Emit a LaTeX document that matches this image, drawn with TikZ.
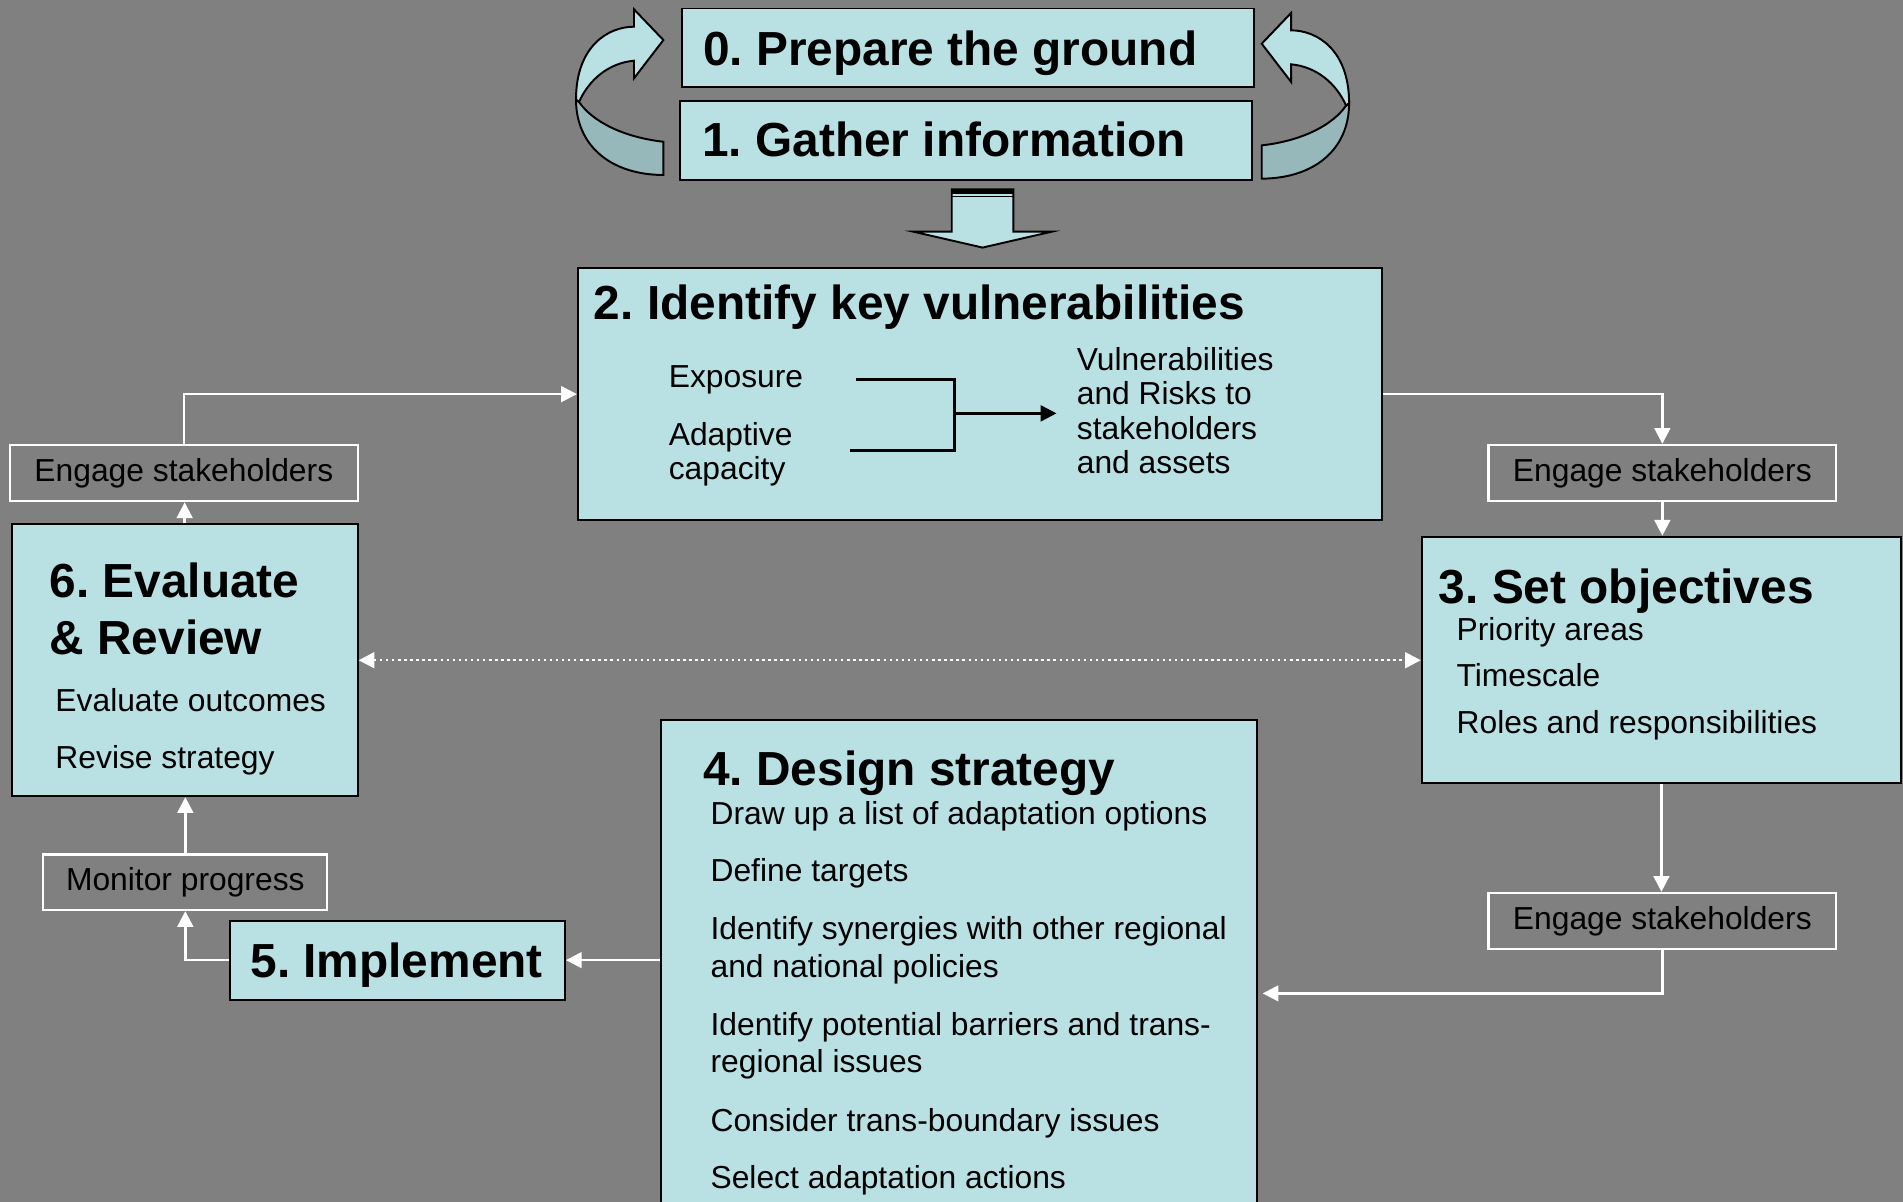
\documentclass[tikz,border=0pt]{standalone}
\usepackage{fontspec}
\setmainfont{Liberation Sans}
\usepackage{tikz}
\usetikzlibrary{positioning,arrows.meta,fit}
\frenchspacing

\definecolor{slidegray}{RGB}{128,128,128}
\definecolor{stepblue}{RGB}{185,224,227}
\definecolor{stepshade}{RGB}{150,184,187}
\newcommand{\titlefont}{\fontsize{19.7pt}{23.5pt}\selectfont\bfseries}
\newcommand{\bodyfont}{\fontsize{13.1pt}{15.5pt}\selectfont}

\begin{document}
\begin{tikzpicture}[
    x=0.5pt, y=-0.5pt,
    stepbox/.style={rectangle, draw=black, line width=0.8pt, fill=stepblue, inner sep=0pt},
    engage/.style={rectangle, draw=white, line width=0.9pt, inner sep=0pt, font=\bodyfont, minimum width=143.2pt, minimum height=23.2pt},
    steptitle/.style={anchor=base west, inner sep=0pt, align=left, font=\titlefont},
    stepitem/.style={anchor=base west, inner sep=0pt, align=left, font=\bodyfont},
    flow/.style={draw=white, line width=1pt, -{Triangle[length=6.5pt, width=6.5pt]}},
    dotflow/.style={draw=white, line width=1pt, dash pattern=on 1pt off 1.5pt, {Triangle[length=6.5pt, width=6.5pt]}-{Triangle[length=6.5pt, width=6.5pt]}},
    blackline/.style={draw=black, line width=1pt},
    blackarrow/.style={blackline, -{Triangle[length=6.5pt, width=6.5pt]}},
    blockarrow/.style={draw=black, line width=0.8pt, fill=stepblue, line join=miter},
]

% === SLIDE BACKGROUND ===
\useasboundingbox (0,0) rectangle (1568,990);
\fill[slidegray] (0,0) rectangle (1568,990);

% === STEPS 0 AND 1 (top) ===
\node[stepbox, fit={(562,7) (1033,72)}] (prep) {};
\node[stepbox, fit={(560.6,83.2) (1031.9,148.3)}] (gather) {};
\node[steptitle] (preptext)   at (579,54)    {0. Prepare the ground};
\node[steptitle] (gathertext) at (578.3,129) {1. Gather information};

% curved loop arrows left and right of steps 0/1
\foreach \sx/\dy in {1/0, -1/3} {
  \begin{scope}[shift={(793.1,\dy)}, xscale=\sx]
    \draw[blockarrow, fill=stepshade] (-318.5,82) .. controls (-318.5,120) and (-290,144) .. (-246.5,144.2)
        -- (-246.5,116.8) .. controls (-280,113) and (-305,100) .. (-316,84) -- cycle;
    \draw[blockarrow] (-270.7,22) .. controls (-292,22) and (-318.5,38) .. (-318.5,82) -- (-316,84)
        .. controls (-308,66) and (-292,52) .. (-270.7,50) -- (-270.7,64.5) -- (-246.5,33)
        -- (-270.7,7.7) -- cycle;
  \end{scope}
}

% block arrow down to step 2
\draw[blockarrow] (784.2,156) -- (835,156) -- (835,190.9) -- (866.6,190.9) -- (809.6,204)
    -- (752.6,190.9) -- (784.2,190.9) -- cycle;
\fill[black] (784.2,156) rectangle (835,160);
\draw[black, line width=0.5pt] (784.2,161.6) -- (835,161.6);

% === STEP 2 ===
\node[stepbox, fit={(476.1,221) (1138.8,428.5)}] (vuln) {};
\node[steptitle] (vulntext) at (489,263.5) {2. Identify key vulnerabilities};
\node[stepitem] (expo) at (550.7,319) {Exposure};
% multi-line nodes: base = last line
\node[stepitem, font=\fontsize{13.1pt}{14pt}\selectfont] (adapt) at (550.7,395) {Adaptive\\capacity};
\node[stepitem, font=\fontsize{13.1pt}{14.25pt}\selectfont] (risks) at (886.9,390.5)
    {Vulnerabilities\\and Risks to\\stakeholders\\and assets};
\coordinate (vjoin) at (786.4,340.6);

\draw[blackline] ([xshift=21.5pt]expo.east) -| (vjoin);
\draw[blackline] ([xshift=23.4pt, yshift=1.6pt]adapt.east) -| (vjoin);
\draw[blackarrow] (vjoin) -- ([xshift=-8.2pt]vjoin -| risks.west);

% === LEFT SIDE: engage, step 6, monitor, step 5 ===
\node[engage] (engL) at (151.5,389.8) {Engage stakeholders};
\node[stepbox, fit={(9.6,432) (294.7,656)}] (evalrev) {};
\node[steptitle] (evaltext) at (40.5,539.5) {6. Evaluate\\\& Review};
\node[stepitem] (evalout) at (45.3,586) {Evaluate outcomes};
\node[stepitem] (revise)  at (45.3,633) {Revise strategy};
\node[engage, minimum width=117pt, minimum height=22.9pt] (monitor) at (152.7,726.9) {Monitor progress};
\node[stepbox, fit={(189.5,758.6) (465.5,823.6)}] (implement) {};
\node[steptitle] (impltext) at (206,805.3) {5. Implement};

% === STEP 4 (runs off the bottom) ===
\node[stepbox, fit={(544.4,593.3) (1035.5,1010)}] (design) {};
\node[steptitle] (designtext) at (579,647) {4. Design strategy};
\node[stepitem] (opt1) at (585.1,679) {Draw up a list of adaptation options};
\node[stepitem] (opt2) at (585.1,726) {Define targets};
\node[stepitem] (opt3) at (585.1,805.5) {Identify synergies with other regional\\and national policies};
\node[stepitem] (opt4) at (585.1,884) {Identify potential barriers and trans-\\regional issues};
\node[stepitem] (opt5) at (585.1,932) {Consider trans-boundary issues};
\node[stepitem] (opt6) at (585.1,979) {Select adaptation actions};

% === RIGHT SIDE: engage, step 3, engage ===
\node[engage] (engR) at (1369.7,389.8) {Engage stakeholders};
\node[stepbox, fit={(1171.5,442.2) (1566.4,645)}] (objectives) {};
\node[steptitle] (objtext) at (1185.2,497.5) {3. Set objectives};
\node[stepitem] (obj1) at (1199.8,528) {Priority areas};
\node[stepitem] (obj2) at (1199.8,566) {Timescale};
\node[stepitem] (obj3) at (1199.8,604) {Roles and responsibilities};
\node[engage] (engR2) at (1369.7,758.9) {Engage stakeholders};
\coordinate (designin) at (1040.4,818.5);

% === CYCLE CONNECTORS (white) ===
\draw[flow] (vuln.east) -| (engR.north);
\draw[flow] (engR.south) -- (engR.south |- objectives.north);
\draw[flow] (objectives.south) -- (objectives.south |- engR2.north);
\draw[flow] (engR2.south) |- (designin);
\draw[flow] (implement.east -| design.west) -- (implement.east);
\draw[flow] (implement.west) -| (monitor.south);
\draw[flow] (monitor.north) -- (monitor.north |- evalrev.south);
\draw[flow] (evalrev.north) -- (evalrev.north |- engL.south);
\draw[flow] (engL.north) |- (vuln.west);
\draw[dotflow] (evalrev.east) -- (evalrev.east -| objectives.west);

\end{tikzpicture}
\end{document}
